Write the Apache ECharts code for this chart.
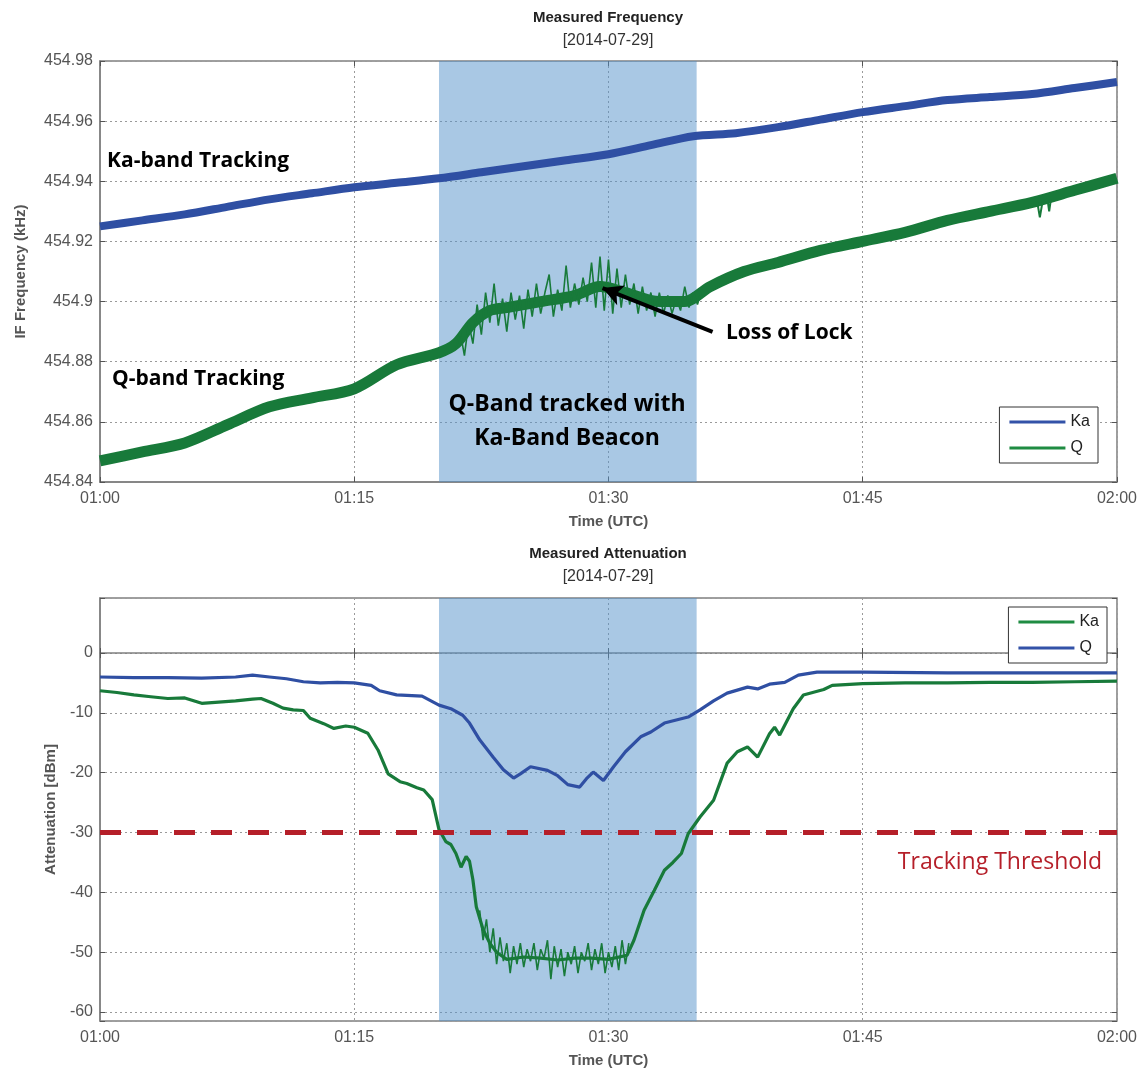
<!DOCTYPE html>
<html>
<head>
<meta charset="utf-8">
<script src="https://cdn.jsdelivr.net/npm/echarts@6/dist/echarts.min.js"></script>
<style>html,body{margin:0;padding:0;background:#fff;}#chart{width:1140px;height:1070px;}</style>
</head>
<body>
<div id="chart"></div>
<script>
// ---------- DATA (time in minutes after 00:00 UTC, value) ----------
const xTicks = [60, 75, 90, 105, 120];           // 01:00 ... 02:00
const shadeStart = 80, shadeEnd = 95.2;          // Q-band tracked with Ka-band beacon
const threshold = -30;

// Top panel: measured IF frequency (kHz)
const freqKa = [
  [60,454.925],[62.5,454.927],[65,454.929],[67.5,454.9315],[70,454.934],[72.5,454.936],
  [75,454.938],[77.5,454.9395],[80,454.941],[82.5,454.943],[85,454.945],[87.5,454.947],
  [90,454.949],[92.5,454.952],[95,454.955],[97.5,454.956],[100,454.958],[102.5,454.9605],
  [105,454.963],[107.5,454.965],[110,454.967],[112.5,454.968],[115,454.969],
  [117.5,454.971],[120,454.973]
];
const freqQ = [
  [60,454.847],[62.5,454.850],[65,454.853],[67.5,454.859],[70,454.865],[72.5,454.868],
  [75,454.871],[77.5,454.879],[80,454.883],[81,454.886],[82,454.893],[83,454.897],
  [84,454.898],[86,454.900],[88,454.902],[89.5,454.905],[91,454.903],[93,454.900],
  [94.5,454.900],[96,454.905],[98,454.910],[100,454.913],[102.5,454.917],[105,454.920],
  [107.5,454.923],[110,454.927],[112.5,454.930],[115,454.933],
  [117.5,454.937],[120,454.941]
];
const freqQSpikes = [
  [81.00,454.884],[81.25,454.890],[81.50,454.882],[81.75,454.893],[82.00,454.886],[82.25,454.899],
  [82.50,454.889],[82.75,454.903],[83.00,454.893],[83.25,454.906],[83.50,454.892],[83.75,454.901],
  [84.00,454.890],[84.25,454.903],[84.50,454.894],[84.75,454.902],[85.00,454.891],[85.25,454.904],
  [85.50,454.895],[85.75,454.906],[86.00,454.896],[86.25,454.903],[86.50,454.909],[86.75,454.895],
  [87.00,454.904],[87.25,454.897],[87.50,454.912],[87.75,454.898],[88.00,454.906],[88.25,454.899],
  [88.50,454.908],[88.75,454.900],[89.00,454.913],[89.25,454.898],[89.50,454.915],[89.75,454.897],
  [90.00,454.914],[90.25,454.896],[90.50,454.911],[90.75,454.898],[91.00,454.909],[91.25,454.899],
  [91.50,454.906],[91.75,454.896],[92.00,454.905],[92.25,454.897],[92.50,454.903],[92.75,454.895],
  [93.00,454.903],[93.25,454.896],[93.50,454.902],[93.75,454.896],[94.00,454.901],[94.25,454.897],
  [94.50,454.905],[94.75,454.898],[95.00,454.903],[95.25,454.899],[95.50,454.904]
];
// Small dropouts visible in the Q trace near 01:55
const freqQDips = [[115.3,454.933],[115.45,454.928],[115.6,454.933],[115.9,454.934],[116.0,454.930],[116.1,454.934]];
// Loss-of-lock arrow (tail -> head)
const arrowTail = [96.14, 454.8899];
const arrowHead = [89.65, 454.9045];

// Bottom panel: measured attenuation (dBm)
const attKa = [
  [60,-6.3],[61,-6.6],[62,-7.0],[63,-7.3],[64,-7.6],[65,-7.5],[66,-8.4],[67,-8.2],[68,-8.0],
  [69,-7.7],[69.5,-7.6],[70.2,-8.4],[70.8,-9.2],[71.4,-9.5],[72,-9.6],[72.4,-10.9],[73.2,-11.8],
  [73.8,-12.6],[74.5,-12.2],[75,-12.4],[75.8,-13.4],[76.4,-16.2],[77,-20.2],[77.7,-21.5],
  [78.1,-21.8],[78.7,-22.5],[79.1,-22.9],[79.6,-24.5],[80.0,-29.5],[80.4,-31.5],[80.7,-32.0],
  [81.0,-33.5],[81.3,-35.8],[81.6,-34.0],[81.8,-34.8],[82.0,-37.9],[82.2,-42.4],[82.6,-46.2],
  [83.0,-48.5],[83.4,-50.0],[84,-51.2],[85,-50.8],[86,-51.0],[87,-51.3],[88,-51.0],[89,-51.0],
  [90,-51.2],[91.1,-50.5],[91.5,-48.0],[92.1,-43.0],[92.7,-39.7],[93.3,-36.3],[93.8,-35.0],
  [94.3,-33.5],[94.7,-30.2],[95.4,-27.4],[96.2,-24.6],[97.0,-18.4],[97.6,-16.5],[98.2,-15.7],
  [98.8,-17.4],[99.5,-13.5],[99.8,-12.4],[100.1,-13.7],[100.9,-9.3],[101.5,-7.0],[102.7,-6.1],
  [103.2,-5.4],[105,-5.1],[107.5,-5.0],[110,-5.0],[112.5,-4.9],[115,-4.9],[117.5,-4.8],[120,-4.7]
];
const attQ = [
  [60,-4.0],[62,-4.1],[64,-4.1],[66,-4.2],[68,-4.0],[69,-3.7],[70,-4.0],[71,-4.3],[72,-4.8],
  [73,-5.0],[74,-4.9],[75,-5.0],[76,-5.4],[76.5,-6.3],[77.5,-7.0],[79,-7.2],[80,-8.7],
  [80.7,-9.3],[81.4,-10.4],[81.8,-11.7],[82.4,-14.5],[83.2,-17.4],[83.8,-19.5],[84.4,-20.9],
  [84.8,-20.2],[85.4,-19.0],[86.4,-19.6],[87,-20.5],[87.6,-22.0],[88.3,-22.4],[88.7,-21.0],
  [89.1,-19.9],[89.7,-21.3],[90.3,-19.0],[91,-16.5],[91.9,-14.0],[92.5,-13.2],[93.3,-11.7],
  [94,-11.2],[94.7,-10.7],[95.4,-9.5],[96.2,-8.0],[97,-6.7],[98.2,-5.7],[98.8,-6.0],[99.5,-5.2],
  [100.4,-4.9],[101.2,-3.7],[102.3,-3.2],[105,-3.2],[110,-3.3],[115,-3.3],[120,-3.3]
];
const attKaSpikes = [
  [82.4,-43],[82.6,-48],[82.8,-44.5],[83.0,-50],[83.2,-46],[83.4,-52],[83.6,-47.5],[83.8,-51.5],
  [84.0,-48.5],[84.2,-53.5],[84.4,-49],[84.6,-52],[84.8,-48.5],[85.0,-52.5],[85.2,-49.5],[85.4,-51.5],
  [85.6,-48.5],[85.8,-53],[86.0,-49.5],[86.2,-51],[86.4,-48],[86.6,-54.5],[86.8,-49],[87.0,-52.5],
  [87.2,-49.5],[87.4,-54],[87.6,-50],[87.8,-52],[88.0,-49],[88.2,-53.5],[88.4,-50],[88.6,-51.5],
  [88.8,-48.5],[89.0,-53],[89.2,-49.5],[89.4,-52],[89.6,-48.5],[89.8,-53.5],[90.0,-50],[90.2,-52.5],
  [90.4,-49],[90.6,-53],[90.8,-48],[91.0,-52],[91.2,-48.5]
];

// ---------- STYLE ----------
const BLUE = '#2f4fa3', GREEN = '#187a3a', RED = '#b51f29', SHADE = 'rgba(83,145,201,0.5)';
const LBLUE = '#3352a8', LGREEN = '#1f8c42';
const FRAME = '#808080', LABEL = '#555555';
const FONT = '"Liberation Sans", Arial, sans-serif';
const ANNOT = '"Open Sans", "Noto Sans", sans-serif';

const timeFmt = v => { const h = Math.floor(v / 60), m = Math.round(v % 60); return String(h).padStart(2,'0') + ':' + String(m).padStart(2,'0'); };

function xAx(grid, pos, show) {
  return {
    type: 'value', gridIndex: grid, position: pos, min: 60, max: 120, interval: 15,
    axisLine: { show: show, lineStyle: { color: FRAME, width: 1.5 } },
    axisTick: { show: true, inside: true, length: 5, lineStyle: { color: '#555', width: 1 } },
    axisLabel: { show: show, formatter: timeFmt, color: LABEL, fontSize: 16, fontFamily: FONT, margin: 9 },
    splitLine: { show: show, lineStyle: { color: '#9a9a9a', type: [2, 3], width: 1 } },
    name: show ? 'Time (UTC)' : '', nameLocation: 'middle', nameGap: 32,
    nameTextStyle: { color: LABEL, fontSize: 15, fontWeight: 'bold', fontFamily: FONT }
  };
}
const splitStyle = { color: '#9a9a9a', type: [2, 3], width: 1 };
function legendCfg(names, right, top) {
  return { data: names, orient: 'vertical', right: right, top: top, icon: 'rect', itemWidth: 56, itemHeight: 3, itemGap: 8,
    padding: [6, 8, 6, 10], borderColor: '#333', borderWidth: 1, backgroundColor: '#fff',
    textStyle: { fontSize: 16, fontFamily: FONT, color: '#222', lineHeight: 18 },
    formatter: n => n.trim(), selectedMode: false, z: 20 };
}
function txt(x, y, text, font, fill, align) {
  return { type: 'text', x: x, y: y, z: 50, style: { text: text, font: font, fill: fill, align: align, verticalAlign: 'middle' } };
}

const option = {
  animation: false,
  backgroundColor: '#fff',
  grid: [
    { left: 100, top: 61, right: 23, height: 421, show: true, borderColor: FRAME, borderWidth: 1.5, backgroundColor: 'transparent' },
    { left: 100, top: 598, right: 23, height: 423, show: true, borderColor: FRAME, borderWidth: 1.5, backgroundColor: 'transparent' }
  ],
  xAxis: [ xAx(0, 'bottom', true), xAx(1, 'bottom', true), xAx(0, 'top', false), xAx(1, 'top', false) ],
  yAxis: [
    { type: 'value', gridIndex: 0, min: 454.84, max: 454.98, interval: 0.02,
      axisLine: { show: true, lineStyle: { color: FRAME, width: 1.5 } },
      axisTick: { inside: true, length: 5, lineStyle: { color: '#555' } },
      axisLabel: { formatter: v => String(+v.toFixed(2)), color: LABEL, fontSize: 16, fontFamily: FONT, margin: 7 },
      splitLine: { show: true, lineStyle: splitStyle },
      name: 'IF Frequency (kHz)', nameLocation: 'middle', nameGap: 72,
      nameTextStyle: { color: LABEL, fontSize: 15, fontWeight: 'bold', fontFamily: FONT } },
    { type: 'value', gridIndex: 1, min: -61.5, max: 9.2, splitNumber: 7,
      axisLine: { show: true, lineStyle: { color: FRAME, width: 1.5 } },
      axisTick: { inside: true, length: 5, lineStyle: { color: '#555' } },
      axisLabel: { formatter: v => (Math.abs(v % 10) < 1e-6 ? String(Math.round(v)) : ''), color: LABEL, fontSize: 16, fontFamily: FONT, margin: 7, showMinLabel: true, showMaxLabel: true },
      splitLine: { show: true, lineStyle: splitStyle },
      name: 'Attenuation [dBm]', nameLocation: 'middle', nameGap: 42,
      nameTextStyle: { color: LABEL, fontSize: 15, fontWeight: 'bold', fontFamily: FONT } },
    { type: 'value', gridIndex: 0, position: 'right', min: 454.84, max: 454.98, interval: 0.02,
      axisLine: { show: false }, axisTick: { inside: true, length: 5, lineStyle: { color: '#555' } },
      axisLabel: { show: false }, splitLine: { show: false } },
    { type: 'value', gridIndex: 1, position: 'right', min: -61.5, max: 9.2, splitNumber: 7,
      axisLine: { show: false }, axisTick: { inside: true, length: 5, lineStyle: { color: '#555' } },
      axisLabel: { show: false }, splitLine: { show: false } }
  ],
  legend: [ legendCfg(['Ka', 'Q'], 42, 407), legendCfg(['Ka ', 'Q '], 33, 607) ],
  series: [
    { name: 'Ka', type: 'line', xAxisIndex: 0, yAxisIndex: 0, data: freqKa, symbol: 'none', color: LBLUE, smooth: 0.3,
      lineStyle: { color: BLUE, width: 8 }, z: 3,
      markArea: { silent: true, itemStyle: { color: SHADE }, data: [[{ xAxis: shadeStart }, { xAxis: shadeEnd }]] } },
    { name: 'Q', type: 'line', xAxisIndex: 0, yAxisIndex: 0, data: freqQ, symbol: 'none', color: LGREEN, smooth: 0.3,
      lineStyle: { color: GREEN, width: 11, join: 'round' }, z: 3,
      markLine: { silent: true, symbol: ['none', 'arrow'], symbolSize: [16, 20], label: { show: false },
        lineStyle: { color: '#000', width: 4, type: 'solid' },
        data: [[{ coord: arrowTail }, { coord: arrowHead }]] } },
    { name: 'Q spikes', type: 'line', xAxisIndex: 0, yAxisIndex: 0, data: freqQSpikes, symbol: 'none', color: GREEN,
      lineStyle: { color: GREEN, width: 1.6 }, z: 3 },
    { name: 'Q dips', type: 'line', xAxisIndex: 0, yAxisIndex: 0, data: freqQDips, symbol: 'none', color: GREEN,
      lineStyle: { color: GREEN, width: 2 }, z: 3 },
    { name: 'Ka ', type: 'line', xAxisIndex: 1, yAxisIndex: 1, data: attKa, symbol: 'none', color: LGREEN,
      lineStyle: { color: GREEN, width: 3.2 }, z: 3,
      markArea: { silent: true, itemStyle: { color: SHADE }, data: [[{ xAxis: shadeStart }, { xAxis: shadeEnd }]] },
      markLine: { silent: true, symbol: ['none', 'none'], label: { show: false },
        lineStyle: { color: RED, width: 5, type: [21, 16] }, data: [{ yAxis: threshold }] } },
    { name: 'Q ', type: 'line', xAxisIndex: 1, yAxisIndex: 1, data: attQ, symbol: 'none', color: LBLUE,
      lineStyle: { color: BLUE, width: 3.2 }, z: 3 },
    { name: 'Ka spikes', type: 'line', xAxisIndex: 1, yAxisIndex: 1, data: attKaSpikes, symbol: 'none', color: GREEN,
      lineStyle: { color: GREEN, width: 1.6 }, z: 3 }
  ],
  graphic: [
    txt(608, 18, 'Measured Frequency', 'bold 15px ' + FONT, '#222', 'center'),
    txt(608, 41, '[2014-07-29]', '16px ' + FONT, '#333', 'center'),
    txt(608, 554, 'Measured Attenuation', 'bold 15px ' + FONT, '#222', 'center'),
    txt(608, 577, '[2014-07-29]', '16px ' + FONT, '#333', 'center'),
    txt(107, 161, 'Ka-band Tracking', 'bold 21px ' + ANNOT, '#000', 'left'),
    txt(112, 379, 'Q-band Tracking', 'bold 21px ' + ANNOT, '#000', 'left'),
    txt(567, 404, 'Q-Band tracked with', 'bold 23px ' + ANNOT, '#000', 'center'),
    txt(567, 438, 'Ka-Band Beacon', 'bold 23px ' + ANNOT, '#000', 'center'),
    txt(726, 333, 'Loss of Lock', 'bold 21px ' + ANNOT, '#000', 'left'),
    txt(1102, 862, 'Tracking Threshold', '23px ' + ANNOT, RED, 'right')
  ]
};

const chart = echarts.init(document.getElementById('chart'), null, { renderer: 'canvas' });
chart.setOption(option);
</script>
</body>
</html>
